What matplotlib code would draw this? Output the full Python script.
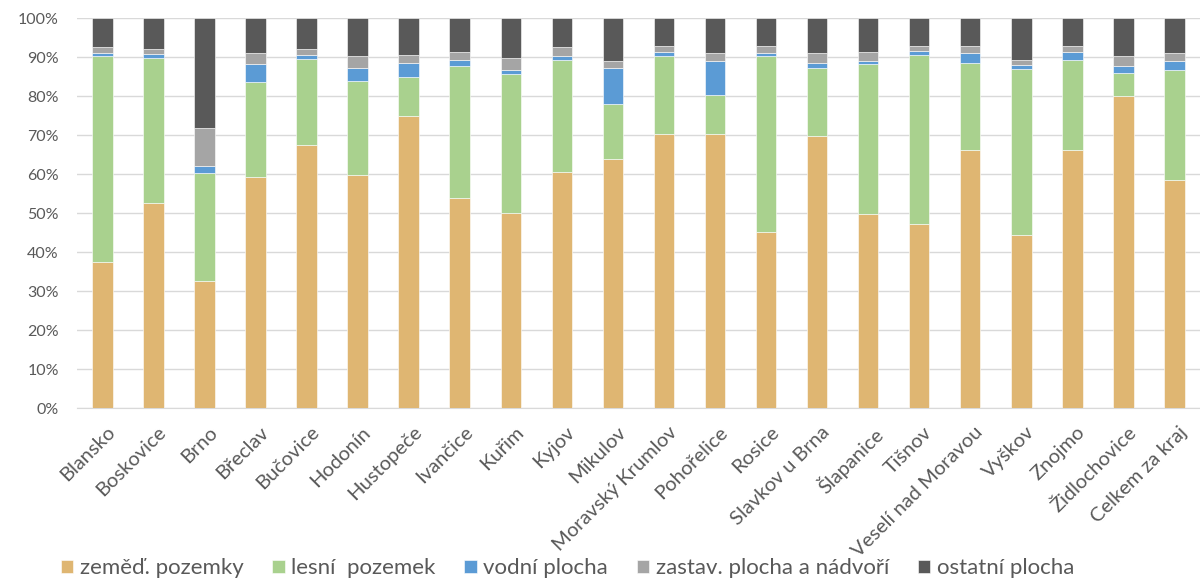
import numpy as np
import matplotlib
matplotlib.use("Agg")
import matplotlib.pyplot as plt
import matplotlib.transforms as mtransforms
from matplotlib.ticker import PercentFormatter

plt.rcParams['font.family'] = ['Lato', 'DejaVu Sans']

okresy = ['Blansko', 'Boskovice', 'Brno', 'Břeclav', 'Bučovice', 'Hodonín', 'Hustopeče',
          'Ivančice', 'Kuřim', 'Kyjov', 'Mikulov', 'Moravský Krumlov', 'Pohořelice', 'Rosice',
          'Slavkov u Brna', 'Šlapanice', 'Tišnov', 'Veselí nad Moravou', 'Vyškov', 'Znojmo',
          'Židlochovice', 'Celkem za kraj']

# shares in %
zemed = [37.5, 52.5, 32.6, 59.3, 67.5, 59.9, 74.8, 54.0, 50.0, 60.6, 63.8,
         70.2, 70.2, 45.2, 69.8, 49.7, 47.1, 66.2, 44.4, 66.2, 80.1, 58.6]
lesni = [52.8, 37.4, 27.6, 24.4, 22.0, 24.1, 10.2, 33.6, 35.6, 28.6, 14.2,
         20.1, 10.1, 45.1, 17.5, 38.6, 43.5, 22.3, 42.5, 23.0, 5.9, 28.1]
vodni = [0.7, 0.9, 2.0, 4.6, 1.0, 3.3, 3.5, 1.7, 1.1, 1.1, 9.3,
         1.0, 8.7, 0.7, 1.3, 0.7, 0.9, 2.5, 1.0, 2.1, 1.6, 2.3]
zastav = [1.5, 1.3, 9.7, 2.7, 1.6, 2.9, 2.1, 1.9, 3.2, 2.3, 1.7,
          1.6, 2.0, 1.9, 2.4, 2.3, 1.4, 1.9, 1.3, 1.6, 2.7, 2.0]
ostatni = [7.5, 7.9, 28.1, 9.0, 7.9, 9.8, 9.4, 8.8, 10.1, 7.4, 11.0,
           7.1, 9.0, 7.1, 9.0, 8.7, 7.1, 7.1, 10.8, 7.1, 9.7, 9.0]

serie = [
    ('zeměď. pozemky', zemed, '#DFB672'),
    ('lesní  pozemek', lesni, '#A9D18E'),
    ('vodní plocha', vodni, '#5B9BD5'),
    ('zastav. plocha a nádvoří', zastav, '#A5A5A5'),
    ('ostatní plocha', ostatni, '#595959'),
]

fig = plt.figure(figsize=(12, 5.84), dpi=100)
ax = fig.add_axes([0.064, 0.301, 0.936, 0.668])

x = np.arange(len(okresy))
bottom = np.zeros(len(okresy))
for name, vals, col in serie:
    vals = np.array(vals)
    ax.bar(x, vals, 0.4, bottom=bottom, color=col, label=name,
           edgecolor='white', linewidth=0.4, zorder=3)
    bottom += vals

ax.set_xlim(-0.5, len(okresy) - 0.5)
ax.set_ylim(0, 100)
ax.set_yticks(np.arange(0, 101, 10))
ax.yaxis.set_major_formatter(PercentFormatter(decimals=0))
ax.grid(axis='y', color='#D9D9D9', linewidth=1, zorder=0)
for s in ['top', 'right', 'left']:
    ax.spines[s].set_visible(False)
ax.spines['bottom'].set_color('#D9D9D9')
ax.tick_params(axis='both', length=0, colors='#595959')
ax.tick_params(axis='y', pad=13, labelsize=11.5)
ax.tick_params(axis='x', pad=11, labelsize=14.5)
ax.set_xticks(x)
ax.set_xticklabels(okresy, rotation=45, ha='right', rotation_mode='anchor')
# nudge labels a little to the right, like the original
shift = mtransforms.ScaledTranslation(4 / 100, 0, fig.dpi_scale_trans)
for lbl in ax.get_xticklabels():
    lbl.set_transform(lbl.get_transform() + shift)

fig.legend(loc='center', bbox_to_anchor=(0.473, 0.027), ncol=5, frameon=False,
           fontsize=16, labelcolor='#595959', handlelength=0.55, handleheight=0.55,
           handletextpad=0.3, columnspacing=1.3)

fig.savefig('out.png', dpi=100)
